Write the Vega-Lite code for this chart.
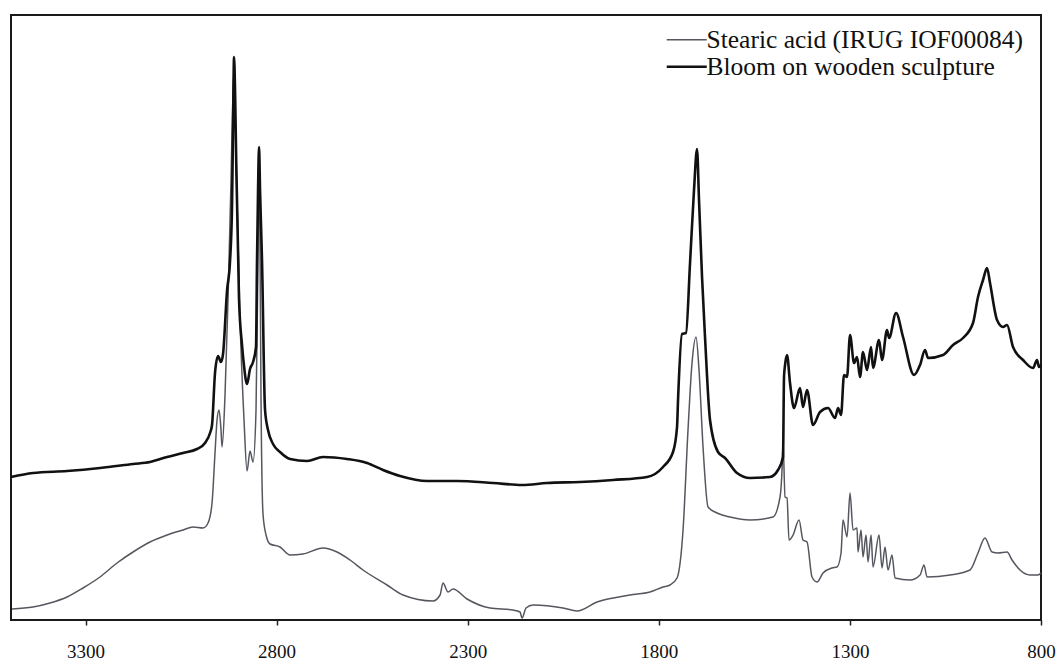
{
  "$schema": "https://vega.github.io/schema/vega-lite/v6.json",
  "width": 1030,
  "height": 605,
  "autosize": {"type": "none"},
  "padding": {"left": 11, "top": 15, "right": 15, "bottom": 40},
  "background": "white",
  "config": {
    "view": {"stroke": "#1a1a1a", "strokeWidth": 2},
    "font": "Liberation Serif"
  },
  "data": {
    "values": [
      {"s":"S","w":3492.3,"a":11},{"s":"S","w":3437.4,"a":13},{"s":"S","w":3392.9,"a":17},{"s":"S","w":3348.4,"a":23},{"s":"S","w":3306.5,"a":32},{"s":"S","w":3262.1,"a":43},{"s":"S","w":3217.6,"a":57},{"s":"S","w":3175.7,"a":68},{"s":"S","w":3131.2,"a":78},{"s":"S","w":3086.7,"a":85},{"s":"S","w":3044.9,"a":90},{"s":"S","w":3018.7,"a":93},{"s":"S","w":2992.6,"a":92},{"s":"S","w":2979.5,"a":97},{"s":"S","w":2969.0,"a":117},{"s":"S","w":2961.2,"a":167},{"s":"S","w":2955.9,"a":200},{"s":"S","w":2950.7,"a":210},{"s":"S","w":2945.5,"a":190},{"s":"S","w":2942.8,"a":173},{"s":"S","w":2935.0,"a":225},{"s":"S","w":2927.1,"a":321},{"s":"S","w":2919.3,"a":440},{"s":"S","w":2914.1,"a":530},{"s":"S","w":2911.4,"a":548},{"s":"S","w":2908.8,"a":510},{"s":"S","w":2903.6,"a":420},{"s":"S","w":2895.7,"a":300},{"s":"S","w":2885.3,"a":200},{"s":"S","w":2877.4,"a":149},{"s":"S","w":2869.6,"a":169},{"s":"S","w":2861.7,"a":158},{"s":"S","w":2853.9,"a":210},{"s":"S","w":2848.6,"a":370},{"s":"S","w":2846.0,"a":460},{"s":"S","w":2843.4,"a":370},{"s":"S","w":2840.8,"a":220},{"s":"S","w":2835.6,"a":106},{"s":"S","w":2827.7,"a":85},{"s":"S","w":2817.2,"a":76},{"s":"S","w":2791.1,"a":73},{"s":"S","w":2764.9,"a":65},{"s":"S","w":2730.9,"a":66},{"s":"S","w":2678.6,"a":72},{"s":"S","w":2641.9,"a":68},{"s":"S","w":2607.9,"a":60},{"s":"S","w":2573.9,"a":50},{"s":"S","w":2511.1,"a":35},{"s":"S","w":2469.3,"a":25},{"s":"S","w":2390.8,"a":19},{"s":"S","w":2372.4,"a":25},{"s":"S","w":2364.6,"a":37},{"s":"S","w":2351.5,"a":28},{"s":"S","w":2338.4,"a":31},{"s":"S","w":2301.8,"a":21},{"s":"S","w":2241.6,"a":12},{"s":"S","w":2181.4,"a":10},{"s":"S","w":2163.1,"a":8},{"s":"S","w":2157.9,"a":2},{"s":"S","w":2147.4,"a":12},{"s":"S","w":2129.1,"a":15},{"s":"S","w":2050.6,"a":12},{"s":"S","w":2014.0,"a":9},{"s":"S","w":1961.7,"a":18},{"s":"S","w":1875.3,"a":25},{"s":"S","w":1823.0,"a":28},{"s":"S","w":1789.0,"a":33},{"s":"S","w":1770.6,"a":35},{"s":"S","w":1752.3,"a":42},{"s":"S","w":1736.6,"a":90},{"s":"S","w":1723.6,"a":190},{"s":"S","w":1713.1,"a":257},{"s":"S","w":1702.6,"a":283},{"s":"S","w":1694.8,"a":250},{"s":"S","w":1684.3,"a":173},{"s":"S","w":1671.2,"a":113},{"s":"S","w":1647.7,"a":107},{"s":"S","w":1613.7,"a":103},{"s":"S","w":1561.3,"a":100},{"s":"S","w":1501.2,"a":103},{"s":"S","w":1482.8,"a":123},{"s":"S","w":1477.6,"a":150},{"s":"S","w":1475.0,"a":178},{"s":"S","w":1469.7,"a":123},{"s":"S","w":1464.5,"a":122},{"s":"S","w":1459.3,"a":80},{"s":"S","w":1448.8,"a":85},{"s":"S","w":1433.1,"a":100},{"s":"S","w":1422.7,"a":80},{"s":"S","w":1412.2,"a":78},{"s":"S","w":1399.1,"a":43},{"s":"S","w":1386.0,"a":38},{"s":"S","w":1370.3,"a":47},{"s":"S","w":1346.8,"a":52},{"s":"S","w":1333.7,"a":53},{"s":"S","w":1323.2,"a":67},{"s":"S","w":1318.0,"a":100},{"s":"S","w":1307.5,"a":83},{"s":"S","w":1299.7,"a":127},{"s":"S","w":1291.8,"a":90},{"s":"S","w":1281.4,"a":92},{"s":"S","w":1278.7,"a":68},{"s":"S","w":1270.9,"a":90},{"s":"S","w":1265.7,"a":63},{"s":"S","w":1257.8,"a":85},{"s":"S","w":1252.6,"a":58},{"s":"S","w":1244.7,"a":85},{"s":"S","w":1239.5,"a":53},{"s":"S","w":1223.8,"a":85},{"s":"S","w":1216.0,"a":52},{"s":"S","w":1208.1,"a":73},{"s":"S","w":1200.3,"a":50},{"s":"S","w":1189.8,"a":65},{"s":"S","w":1181.9,"a":42},{"s":"S","w":1142.7,"a":40},{"s":"S","w":1116.5,"a":45},{"s":"S","w":1106.1,"a":55},{"s":"S","w":1098.2,"a":43},{"s":"S","w":1038.0,"a":45},{"s":"S","w":985.7,"a":50},{"s":"S","w":964.8,"a":67},{"s":"S","w":946.5,"a":82},{"s":"S","w":928.1,"a":68},{"s":"S","w":912.4,"a":67},{"s":"S","w":888.9,"a":68},{"s":"S","w":875.8,"a":60},{"s":"S","w":854.9,"a":50},{"s":"S","w":828.7,"a":45},{"s":"S","w":807.8,"a":45},{"s":"S","w":799.9,"a":47},
      {"s":"B","w":3494.9,"a":143},{"s":"B","w":3437.4,"a":147},{"s":"B","w":3348.4,"a":149},{"s":"B","w":3262.1,"a":152},{"s":"B","w":3175.7,"a":156},{"s":"B","w":3131.2,"a":158},{"s":"B","w":3086.7,"a":163},{"s":"B","w":3044.9,"a":167},{"s":"B","w":3008.3,"a":171},{"s":"B","w":2987.3,"a":177},{"s":"B","w":2974.2,"a":187},{"s":"B","w":2969.0,"a":195},{"s":"B","w":2961.2,"a":247},{"s":"B","w":2953.3,"a":264},{"s":"B","w":2945.5,"a":258},{"s":"B","w":2940.2,"a":266},{"s":"B","w":2929.8,"a":329},{"s":"B","w":2921.9,"a":359},{"s":"B","w":2916.7,"a":414},{"s":"B","w":2914.1,"a":490},{"s":"B","w":2911.4,"a":563},{"s":"B","w":2908.8,"a":530},{"s":"B","w":2906.2,"a":470},{"s":"B","w":2898.4,"a":321},{"s":"B","w":2890.5,"a":275},{"s":"B","w":2885.3,"a":254},{"s":"B","w":2877.4,"a":236},{"s":"B","w":2869.6,"a":251},{"s":"B","w":2861.7,"a":258},{"s":"B","w":2853.9,"a":273},{"s":"B","w":2851.3,"a":359},{"s":"B","w":2848.6,"a":430},{"s":"B","w":2846.0,"a":473},{"s":"B","w":2843.4,"a":430},{"s":"B","w":2838.2,"a":359},{"s":"B","w":2830.3,"a":210},{"s":"B","w":2822.5,"a":190},{"s":"B","w":2809.4,"a":176},{"s":"B","w":2791.1,"a":168},{"s":"B","w":2764.9,"a":161},{"s":"B","w":2720.4,"a":159},{"s":"B","w":2678.6,"a":163},{"s":"B","w":2615.8,"a":161},{"s":"B","w":2563.4,"a":157},{"s":"B","w":2521.6,"a":150},{"s":"B","w":2477.1,"a":144},{"s":"B","w":2406.5,"a":139},{"s":"B","w":2328.0,"a":139},{"s":"B","w":2233.8,"a":137},{"s":"B","w":2157.9,"a":135},{"s":"B","w":2092.5,"a":137},{"s":"B","w":2006.1,"a":138},{"s":"B","w":1919.8,"a":140},{"s":"B","w":1830.8,"a":143},{"s":"B","w":1789.0,"a":153},{"s":"B","w":1762.8,"a":168},{"s":"B","w":1752.3,"a":193},{"s":"B","w":1749.7,"a":220},{"s":"B","w":1739.3,"a":286},{"s":"B","w":1728.8,"a":287},{"s":"B","w":1718.3,"a":357},{"s":"B","w":1707.9,"a":430},{"s":"B","w":1700.0,"a":471},{"s":"B","w":1694.8,"a":420},{"s":"B","w":1686.9,"a":343},{"s":"B","w":1679.1,"a":283},{"s":"B","w":1666.0,"a":200},{"s":"B","w":1645.1,"a":168},{"s":"B","w":1626.7,"a":162},{"s":"B","w":1595.3,"a":147},{"s":"B","w":1561.3,"a":142},{"s":"B","w":1509.0,"a":143},{"s":"B","w":1488.1,"a":150},{"s":"B","w":1475.0,"a":163},{"s":"B","w":1472.4,"a":243},{"s":"B","w":1469.7,"a":255},{"s":"B","w":1464.5,"a":265},{"s":"B","w":1456.7,"a":237},{"s":"B","w":1446.2,"a":212},{"s":"B","w":1430.5,"a":232},{"s":"B","w":1422.7,"a":213},{"s":"B","w":1412.2,"a":230},{"s":"B","w":1396.5,"a":195},{"s":"B","w":1378.2,"a":208},{"s":"B","w":1357.2,"a":212},{"s":"B","w":1338.9,"a":202},{"s":"B","w":1331.1,"a":212},{"s":"B","w":1323.2,"a":205},{"s":"B","w":1315.4,"a":245},{"s":"B","w":1307.5,"a":243},{"s":"B","w":1299.7,"a":285},{"s":"B","w":1289.2,"a":257},{"s":"B","w":1281.4,"a":263},{"s":"B","w":1273.5,"a":243},{"s":"B","w":1265.7,"a":268},{"s":"B","w":1255.2,"a":250},{"s":"B","w":1244.7,"a":273},{"s":"B","w":1239.5,"a":252},{"s":"B","w":1223.8,"a":280},{"s":"B","w":1216.0,"a":260},{"s":"B","w":1202.9,"a":290},{"s":"B","w":1197.6,"a":282},{"s":"B","w":1179.3,"a":307},{"s":"B","w":1161.0,"a":283},{"s":"B","w":1132.2,"a":245},{"s":"B","w":1116.5,"a":255},{"s":"B","w":1103.4,"a":270},{"s":"B","w":1095.6,"a":262},{"s":"B","w":1056.3,"a":265},{"s":"B","w":1030.2,"a":275},{"s":"B","w":1004.0,"a":282},{"s":"B","w":977.9,"a":297},{"s":"B","w":964.8,"a":323},{"s":"B","w":951.7,"a":340},{"s":"B","w":941.2,"a":352},{"s":"B","w":933.4,"a":337},{"s":"B","w":915.0,"a":300},{"s":"B","w":899.3,"a":293},{"s":"B","w":888.9,"a":295},{"s":"B","w":873.2,"a":273},{"s":"B","w":847.0,"a":260},{"s":"B","w":820.9,"a":252},{"s":"B","w":810.4,"a":260},{"s":"B","w":805.2,"a":253},{"s":"B","w":799.9,"a":255}
    ]
  },
  "mark": {"type": "line", "interpolate": "monotone", "strokeJoin": "round"},
  "encoding": {
    "x": {
      "field": "w",
      "type": "quantitative",
      "scale": {"domain": [800, 3495], "reverse": true, "nice": false, "zero": false},
      "axis": {
        "title": null,
        "values": [3300, 2800, 2300, 1800, 1300, 800],
        "format": "d",
        "grid": false,
        "domain": false,
        "ticks": true,
        "tickSize": 5,
        "tickWidth": 1.5,
        "tickColor": "#222",
        "labelFont": "Liberation Serif",
        "labelFontSize": 19,
        "labelColor": "#111",
        "labelBaseline": "alphabetic",
        "labelPadding": 32,
        "labelFlush": false,
        "labelOverlap": false
      }
    },
    "y": {
      "field": "a",
      "type": "quantitative",
      "scale": {"domain": [0, 605], "nice": false, "zero": false},
      "axis": null
    },
    "color": {
      "field": "s",
      "type": "nominal",
      "scale": {"domain": ["S", "B"], "range": ["#55575f", "#111111"]},
      "legend": {
        "title": null,
        "orient": "none",
        "legendX": 663,
        "legendY": 12,
        "padding": 0,
        "symbolType": "M-2,0H2",
        "symbolSize": 400,
        "labelOffset": 7,
        "labelFont": "Liberation Serif",
        "labelFontSize": 25.5,
        "labelLimit": 500,
        "labelColor": "#111",
        "rowPadding": 0,
        "labelExpr": "datum.label == 'S' ? 'Stearic acid (IRUG IOF00084)' : 'Bloom on wooden sculpture'"
      }
    },
    "strokeWidth": {
      "field": "s",
      "type": "ordinal",
      "scale": {"domain": ["S", "B"], "range": [1.5, 2.6]},
      "legend": null
    }
  }
}
